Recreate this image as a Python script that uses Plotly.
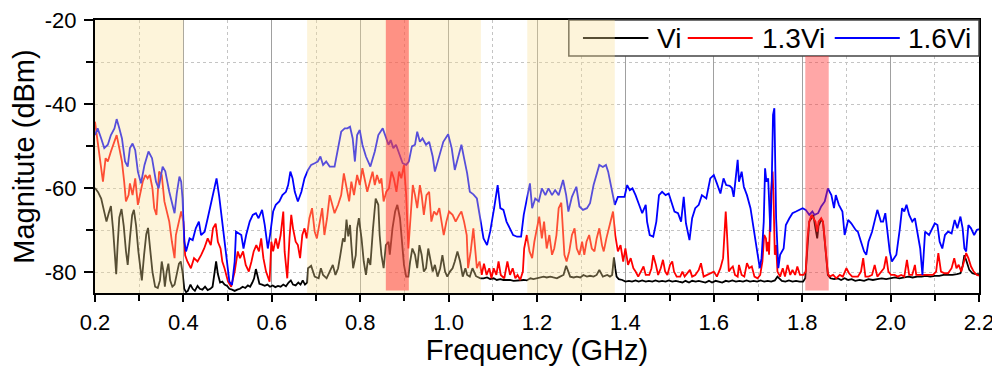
import plotly.graph_objects as go

# ---------------- data ----------------
f_vi = [0.200,0.207,0.214,0.220,0.226,0.231,0.236,0.241,0.245,0.248,0.251,0.255,0.260,0.265,0.270,0.274,0.279,0.284,0.288,0.293,0.298,0.302,0.306,0.311,0.316,0.320,0.325,0.330,0.336,0.342,0.347,0.351,0.355,0.358,0.362,0.366,0.370,0.375,0.380,0.385,0.390,0.394,0.398,0.402,0.406,
        0.410,0.416,0.421,0.426,0.432,0.437,0.443,0.449,0.455,0.461,0.466,0.470,0.474,0.478,0.483,0.488,0.493,0.499,0.504,0.510,0.516,0.522,0.528,0.534,0.540,0.546,0.551,0.556,0.560,0.564,0.568,0.572,0.578,0.584,0.590,0.596,0.602,0.608,0.614,0.620,0.626,0.632,0.638,0.643,0.648,0.654,0.660,0.665,0.670,0.675,0.680,
        0.682,0.689,0.697,0.706,0.711,0.716,0.724,0.731,0.738,0.744,0.750,0.755,0.761,0.765,0.769,0.773,0.777,0.780,0.784,0.790,0.793,0.797,0.803,0.808,0.813,0.818,0.823,0.829,0.835,0.841,0.844,0.848,0.853,0.858,0.864,0.867,0.873,0.879,0.884,0.890,0.895,0.899,0.904,0.909,0.913,0.918,0.924,0.929,0.934,0.939,0.944,0.949,0.954,0.959,0.964,0.969,0.975,0.981,0.986,0.992,0.997,1.003,1.009,1.014,1.020,1.026,1.032,1.038,1.042,1.048,1.054,1.062,
        1.072,1.079,1.087,1.094,1.102,1.109,1.117,1.124,1.132,1.139,1.147,1.154,1.162,1.170,1.177,1.185,1.192,1.200,1.207,1.215,1.222,1.230,1.237,1.245,1.252,1.260,1.266,1.270,1.275,1.283,1.290,1.298,1.305,1.313,1.320,1.328,1.335,1.341,1.349,1.359,1.365,1.370,1.374,1.377,1.380,1.385,1.393,1.400,1.408,1.415,1.423,1.430,1.438,1.446,1.453,1.461,1.468,1.476,1.483,1.491,1.498,1.506,1.514,1.521,1.529,1.536,1.544,1.551,1.559,1.566,1.574,1.581,1.589,1.596,1.604,1.612,1.619,1.627,1.634,1.642,1.650,1.658,1.666,1.674,1.682,1.690,1.698,1.706,1.714,1.722,1.730,1.738,1.744,1.748,1.754,1.762,1.770,1.778,1.786,1.794,1.802,1.807,1.812,1.816,1.821,1.825,1.830,1.834,1.837,1.843,1.847,1.850,1.855,1.858,1.864,1.872,1.880,1.888,1.896,1.904,1.912,1.920,1.930,1.940,1.950,1.960,1.970,1.980,1.990,2.000,2.010,2.020,2.030,2.040,2.050,2.060,2.070,2.080,2.090,2.100,2.110,2.120,2.130,2.140,2.150,2.158,2.163,2.167,2.172,2.178,2.185,2.192,2.200]
v_vi = [-60.0,-61.0,-62.5,-65.0,-68.0,-66.0,-64.3,-70.0,-76.0,-80.5,-74.0,-67.0,-65.0,-69.0,-75.0,-78.3,-72.0,-66.5,-65.2,-69.0,-75.0,-79.0,-82.0,-76.0,-71.0,-69.5,-74.0,-80.0,-83.5,-83.8,-82.0,-77.5,-80.0,-83.5,-80.0,-78.0,-82.0,-83.5,-83.0,-80.5,-78.0,-77.5,-80.0,-84.0,-84.8,
        -84.5,-83.0,-84.0,-84.5,-83.3,-84.0,-84.2,-83.5,-84.3,-84.0,-83.5,-81.0,-77.5,-80.5,-82.5,-82.3,-83.0,-83.3,-84.0,-84.2,-84.5,-84.2,-84.0,-83.5,-83.8,-83.2,-83.5,-82.5,-81.5,-79.3,-81.5,-82.8,-83.0,-83.3,-83.0,-83.5,-83.2,-83.6,-83.3,-83.5,-83.0,-83.4,-82.5,-82.0,-83.0,-83.2,-82.5,-83.0,-82.0,-83.0,-82.5,
        -79.1,-78.5,-81.1,-81.5,-79.1,-80.7,-81.5,-79.9,-78.3,-80.7,-79.1,-76.0,-72.0,-72.8,-67.5,-71.5,-68.8,-73.6,-79.1,-76.0,-69.6,-67.2,-72.0,-77.5,-80.7,-76.7,-78.3,-69.6,-62.5,-64.0,-71.2,-75.9,-79.1,-73.6,-72.8,-75.9,-69.6,-65.6,-64.0,-67.2,-72.8,-78.3,-81.1,-81.1,-77.5,-74.4,-75.9,-79.1,-73.6,-75.9,-79.9,-79.1,-74.4,-77.5,-79.9,-78.3,-81.1,-79.1,-76.0,-79.9,-81.1,-79.9,-79.1,-77.5,-75.1,-77.5,-81.1,-79.1,-80.7,-81.1,-79.1,-81.0,
        -81.5,-81.5,-81.3,-81.7,-81.5,-81.9,-81.7,-81.9,-81.9,-81.9,-82.1,-82.0,-82.0,-81.9,-82.0,-81.5,-81.7,-81.5,-81.3,-81.1,-81.3,-81.1,-81.3,-81.5,-81.1,-80.7,-78.5,-79.9,-81.1,-81.3,-81.1,-81.3,-80.7,-81.1,-80.9,-81.1,-80.7,-79.5,-81.1,-80.7,-81.1,-80.7,-76.5,-79.1,-81.1,-81.7,-81.9,-82.3,-82.1,-82.3,-82.0,-82.3,-82.0,-82.3,-82.1,-82.3,-82.0,-82.3,-82.1,-82.3,-82.0,-82.3,-82.1,-82.3,-82.5,-82.1,-82.5,-82.1,-82.3,-82.1,-82.3,-82.5,-82.1,-82.5,-82.1,-82.3,-82.5,-82.1,-82.3,-82.0,-82.3,-82.1,-82.3,-82.0,-82.3,-82.1,-82.3,-82.0,-82.3,-82.1,-82.3,-82.0,-81.1,-81.5,-82.1,-82.3,-82.0,-82.3,-82.1,-82.3,-82.3,-81.5,-72.8,-68.0,-67.2,-66.4,-69.6,-72.0,-69.0,-67.6,-68.0,-71.2,-77.5,-80.7,-81.5,-81.7,-81.5,-81.9,-81.5,-81.9,-81.7,-82.1,-81.9,-82.1,-81.7,-81.9,-81.7,-81.5,-81.7,-81.5,-81.3,-81.5,-81.3,-81.1,-81.3,-81.1,-81.1,-80.9,-81.1,-80.9,-80.9,-80.7,-80.7,-80.7,-80.5,-80.3,-78.5,-76.0,-77.5,-79.5,-80.3,-80.5,-80.5]

f_13 = [0.200,0.205,0.212,0.218,0.224,0.229,0.236,0.244,0.249,0.255,0.261,0.266,0.270,0.276,0.279,0.285,0.291,0.297,0.302,0.308,0.314,0.319,0.324,0.330,0.334,0.339,0.345,0.351,0.357,0.362,0.368,0.374,0.380,0.383,0.389,0.395,0.400,0.404,0.409,0.417,0.424,0.432,0.440,0.447,0.455,0.462,0.467,0.473,0.478,0.484,0.488,0.493,0.501,0.508,0.516,0.523,0.528,0.535,0.541,0.548,0.554,0.559,0.565,0.571,0.576,0.581,0.587,0.595,0.599,0.603,0.609,0.614,0.620,0.626,0.629,0.635,0.640,0.644,0.648,0.654,0.659,0.664,0.669,0.674,0.679,0.685,0.691,0.697,0.702,0.708,0.714,0.719,0.725,0.731,0.737,0.742,0.750,0.757,0.763,0.767,
        0.771,0.775,0.780,0.786,0.793,0.799,0.805,0.810,0.816,0.822,0.828,0.833,0.838,0.844,0.848,0.853,0.859,0.865,0.871,0.876,0.882,0.888,0.893,0.899,0.904,0.909,0.913,0.919,0.924,0.929,0.935,0.939,0.944,0.950,0.956,0.961,0.967,0.973,0.979,0.984,0.989,0.995,1.001,1.009,1.016,1.024,1.029,1.035,1.041,1.044,1.050,1.056,1.061,1.064,1.070,1.075,1.080,1.086,1.092,1.097,1.102,1.108,1.113,1.118,1.126,1.133,1.139,1.145,1.151,1.156,1.162,1.168,1.171,1.177,1.183,1.189,1.194,1.199,1.205,1.211,1.216,1.222,1.228,1.234,1.239,1.244,1.249,1.255,1.259,1.262,1.267,1.273,1.279,1.285,1.290,1.296,1.302,1.307,1.312,1.318,1.324,1.330,1.335,1.341,1.347,1.351,1.357,1.362,1.368,1.372,1.377,1.383,1.389,1.395,1.400,1.406,1.412,1.418,1.423,1.429,1.435,1.441,1.446,1.454,1.459,1.463,1.469,1.474,1.480,1.485,1.490,1.495,1.501,1.506,1.510,1.516,1.524,1.529,1.534,1.540,1.546,1.551,1.558,1.566,1.571,1.577,1.584,1.592,1.600,1.607,1.615,1.621,1.624,1.627,1.630,1.634,1.639,1.643,1.648,1.654,1.657,1.663,1.669,1.675,1.680,1.686,1.692,1.699,1.705,1.710,1.714,1.718,1.720,1.723,1.725,1.729,1.733,1.735,1.738,1.741,1.744,1.750,1.756,1.761,1.767,1.773,1.778,1.784,1.789,1.795,1.803,1.808,1.812,1.816,1.821,1.825,1.830,1.834,1.837,1.843,1.847,1.850,1.855,1.858,1.862,1.870,1.877,1.885,1.892,1.900,1.906,1.913,1.921,1.926,1.933,1.938,1.943,1.950,1.958,1.964,1.970,1.978,1.985,1.990,1.995,2.001,2.009,2.016,2.024,2.031,2.037,2.042,2.049,2.055,2.058,2.066,2.073,2.081,2.088,2.096,2.103,2.108,2.114,2.122,2.130,2.138,2.144,2.149,2.154,2.160,2.166,2.171,2.176,2.182,2.188,2.195,2.200]
v_13 = [-44.2,-48.2,-53.7,-58.5,-52.9,-53.7,-51.3,-49.0,-47.4,-50.5,-53.7,-58.5,-63.2,-61.7,-58.9,-61.7,-57.7,-64.0,-61.7,-58.5,-56.9,-57.7,-56.9,-60.1,-64.8,-66.4,-56.1,-56.9,-63.2,-65.6,-68.0,-72.8,-76.7,-71.2,-68.0,-65.6,-68.0,-76.0,-77.5,-79.1,-76.7,-77.5,-76.0,-74.4,-72.0,-73.6,-69.6,-68.5,-72.8,-74.4,-77.5,-79.1,-82.3,-83.5,-79.9,-75.1,-76.7,-75.1,-78.3,-79.9,-77.5,-75.1,-73.6,-75.1,-72.0,-76.7,-79.9,-82.3,-72.8,-75.1,-72.0,-74.4,-71.2,-65.6,-75.1,-81.5,-72.0,-66.4,-69.6,-72.8,-73.6,-76.7,-71.2,-69.6,-72.0,-67.2,-64.8,-70.4,-72.0,-68.0,-64.8,-71.2,-67.2,-61.7,-64.0,-66.0,-64.0,-61.7,-56.5,-58.5,
        -61.0,-63.2,-58.5,-61.7,-56.9,-59.3,-55.3,-57.7,-60.9,-58.5,-56.1,-59.3,-56.9,-58.9,-57.7,-63.2,-60.9,-60.1,-56.1,-57.7,-60.9,-56.1,-57.7,-54.5,-61.7,-74.4,-68.0,-59.3,-61.7,-64.8,-59.3,-61.7,-66.4,-61.7,-60.9,-68.0,-65.6,-66.4,-64.8,-68.0,-71.2,-68.0,-65.6,-66.4,-68.0,-66.4,-65.6,-68.0,-71.2,-79.1,-75.1,-69.6,-75.9,-79.1,-77.5,-80.7,-78.0,-80.7,-79.1,-81.5,-79.1,-80.7,-77.5,-80.7,-81.5,-77.5,-80.7,-79.1,-81.5,-80.7,-81.9,-79.9,-74.4,-71.2,-75.1,-76.7,-72.8,-69.6,-66.8,-72.0,-68.0,-74.4,-71.2,-75.9,-74.4,-71.2,-64.8,-63.5,-70.0,-75.9,-77.5,-75.1,-71.2,-69.6,-74.4,-75.9,-72.8,-75.9,-72.8,-71.2,-74.4,-75.1,-72.0,-69.6,-73.6,-75.1,-72.0,-69.6,-67.2,-65.6,-71.2,-75.1,-73.6,-77.5,-74.4,-78.3,-76.7,-79.1,-79.9,-81.1,-79.9,-78.7,-80.7,-80.7,-79.1,-76.0,-78.3,-80.7,-79.1,-77.1,-79.9,-80.7,-78.3,-77.5,-79.9,-81.1,-81.1,-79.9,-81.1,-80.3,-79.5,-81.1,-80.7,-79.5,-77.9,-81.1,-80.7,-80.3,-79.9,-81.1,-79.1,-76.7,-71.2,-65.6,-71.2,-79.9,-79.1,-78.7,-80.7,-81.1,-78.3,-80.7,-81.1,-77.9,-79.1,-78.7,-81.1,-81.5,-80.7,-77.5,-71.2,-72.0,-75.1,-72.8,-75.9,-61.7,-56.1,-61.7,-75.9,-73.6,-79.9,-81.1,-79.1,-81.1,-78.3,-80.7,-79.5,-80.7,-78.7,-80.7,-80.7,-79.9,-72.0,-68.0,-66.4,-67.2,-68.0,-70.4,-68.0,-67.2,-68.0,-71.2,-77.5,-80.3,-81.1,-80.7,-81.5,-80.7,-81.1,-79.1,-80.3,-81.1,-81.1,-81.1,-79.9,-76.7,-81.1,-81.1,-80.7,-78.3,-81.1,-79.9,-79.1,-76.3,-79.9,-80.7,-80.7,-81.1,-80.7,-81.1,-77.1,-80.7,-80.7,-78.3,-80.7,-80.7,-80.7,-80.7,-80.7,-80.7,-79.9,-75.5,-79.9,-80.3,-80.3,-79.1,-76.7,-79.1,-78.3,-79.9,-77.5,-75.5,-76.7,-78.7,-79.9,-80.7,-80.9]

f_16 = [0.200,0.206,0.214,0.221,0.229,0.236,0.244,0.249,0.255,0.261,0.268,0.274,0.279,0.285,0.291,0.297,0.304,0.312,0.321,0.329,0.338,0.344,0.353,0.359,0.368,0.380,0.385,0.391,0.395,0.398,0.402,0.406,0.414,0.421,0.428,0.435,0.440,0.448,0.455,0.466,0.475,0.481,0.488,0.493,0.498,0.504,0.510,0.516,0.519,0.525,0.531,0.536,0.542,0.550,0.557,0.564,0.570,0.578,0.584,0.591,0.596,0.603,0.609,0.617,0.624,0.632,0.637,0.642,0.647,0.652,0.659,0.667,0.674,0.682,0.689,0.697,0.704,0.710,0.716,0.723,0.731,0.742,0.750,0.757,0.765,0.771,0.777,0.783,0.788,0.793,0.799,0.805,0.813,0.823,0.833,0.841,0.851,0.858,0.864,0.869,0.875,0.881,0.889,0.896,0.904,0.910,0.917,0.924,0.929,0.935,0.941,0.949,0.956,0.964,0.969,0.977,0.988,0.999,1.007,1.014,1.022,1.029,1.035,1.042,1.048,1.056,
        1.064,1.072,1.079,1.087,1.094,1.103,1.111,1.117,1.124,1.131,1.138,1.146,1.155,1.164,1.170,1.178,1.184,1.189,1.196,1.204,1.211,1.219,1.226,1.234,1.241,1.249,1.259,1.266,1.271,1.279,1.289,1.296,1.304,1.313,1.320,1.328,1.335,1.341,1.349,1.356,1.361,1.368,1.376,1.383,1.391,1.398,1.404,1.410,1.416,1.423,1.431,1.438,1.446,1.449,1.455,1.463,1.470,1.476,1.483,1.491,1.498,1.504,1.511,1.519,1.526,1.532,1.537,1.545,1.551,1.558,1.566,1.573,1.583,1.592,1.600,1.607,1.615,1.622,1.628,1.636,1.641,1.645,1.650,1.654,1.657,1.663,1.668,1.675,1.683,1.690,1.698,1.704,1.708,1.713,1.716,1.719,1.723,1.728,1.731,1.734,1.737,1.739,1.741,1.746,1.750,1.758,1.763,1.771,1.778,1.786,1.793,1.801,1.808,1.816,1.823,1.828,1.836,1.843,1.851,1.858,1.866,1.872,1.876,1.883,1.891,1.896,1.904,1.911,1.921,1.926,1.933,1.940,1.945,1.950,1.958,1.964,1.970,1.978,1.983,1.988,1.993,1.998,2.003,2.013,2.021,2.026,2.031,2.036,2.042,2.049,2.055,2.061,2.067,2.072,2.078,2.087,2.094,2.100,2.106,2.111,2.117,2.123,2.130,2.138,2.145,2.151,2.158,2.163,2.167,2.171,2.176,2.182,2.189,2.195,2.200]
v_16 = [-47.4,-45.8,-48.2,-50.5,-49.7,-47.4,-45.8,-43.6,-45.8,-48.2,-53.7,-54.9,-50.5,-49.4,-51.0,-56.1,-58.9,-54.5,-51.3,-52.9,-58.5,-60.1,-54.9,-56.0,-60.9,-66.0,-61.3,-57.3,-58.5,-62.5,-72.8,-75.1,-72.0,-72.4,-69.6,-68.0,-71.2,-70.4,-67.2,-61.7,-57.7,-62.0,-68.0,-72.8,-77.5,-82.3,-83.1,-77.5,-70.4,-70.8,-71.2,-74.4,-71.2,-68.0,-66.4,-66.0,-67.2,-65.2,-68.8,-74.4,-71.2,-65.6,-64.0,-63.2,-61.7,-60.9,-59.3,-56.1,-57.7,-60.9,-63.2,-60.9,-57.7,-55.7,-54.5,-54.1,-53.7,-52.5,-54.5,-53.7,-54.9,-54.9,-50.5,-46.6,-45.8,-45.8,-45.4,-48.2,-53.7,-47.4,-46.2,-49.7,-52.5,-54.9,-51.3,-47.4,-45.8,-47.8,-49.7,-48.6,-50.5,-49.7,-52.1,-54.1,-54.5,-53.7,-50.1,-49.7,-46.6,-49.0,-48.2,-49.7,-49.0,-52.5,-56.1,-52.9,-49.0,-47.2,-50.5,-55.7,-52.1,-49.7,-52.9,-56.5,-60.9,-61.5,
        -62.5,-68.0,-72.0,-73.6,-70.4,-64.8,-59.3,-64.8,-65.2,-68.0,-69.6,-71.2,-71.6,-71.6,-66.4,-62.5,-58.9,-64.8,-62.5,-63.2,-60.1,-61.7,-60.1,-61.7,-60.5,-61.7,-58.1,-61.7,-65.6,-62.1,-59.7,-64.4,-65.2,-64.8,-63.6,-59.3,-56.9,-54.5,-55.0,-54.5,-56.1,-60.1,-64.0,-62.1,-62.1,-62.1,-59.3,-60.5,-60.1,-61.7,-64.0,-66.0,-64.0,-68.0,-71.2,-71.6,-68.0,-61.7,-60.9,-61.7,-61.3,-63.2,-65.6,-66.0,-68.0,-62.1,-68.4,-72.4,-67.2,-64.8,-64.0,-61.7,-62.5,-57.7,-56.9,-58.9,-61.3,-57.7,-59.3,-59.5,-60.0,-62.1,-56.1,-53.3,-58.5,-56.1,-59.7,-61.7,-64.8,-69.6,-74.4,-79.1,-76.7,-68.0,-55.3,-58.5,-57.7,-70.4,-59.3,-42.6,-41.0,-53.7,-67.2,-79.1,-75.9,-74.4,-68.8,-67.2,-66.0,-65.6,-65.2,-64.8,-65.2,-66.4,-65.6,-66.4,-66.0,-64.4,-63.2,-60.1,-61.7,-64.8,-61.7,-64.0,-65.6,-71.2,-67.6,-68.4,-70.0,-70.4,-72.8,-75.1,-75.9,-72.8,-70.4,-68.0,-65.2,-68.0,-68.0,-66.0,-70.4,-75.1,-77.5,-75.9,-69.6,-64.8,-65.6,-64.0,-66.4,-68.0,-67.2,-71.2,-74.4,-80.7,-70.4,-71.2,-69.6,-68.4,-68.8,-72.8,-74.4,-71.2,-70.4,-70.8,-67.6,-69.6,-66.8,-69.6,-74.4,-75.1,-68.8,-69.6,-71.2,-70.0,-69.8]

series_names = ["Vi", "1.3Vi", "1.6Vi"]
series_colors = ["#000000", "#FF0000", "#0000FF"]

beige_bands = [(0.200, 0.400), (0.680, 1.073), (1.178, 1.376)]
red_bands = [(0.858, 0.910, -84.4, -20.0), (1.807, 1.860, -84.4, -28.6)]

x_ticks = [0.2, 0.4, 0.6, 0.8, 1.0, 1.2, 1.4, 1.6, 1.8, 2.0, 2.2]
y_ticks = [-80, -60, -40, -20]

# ---------------- figure ----------------
FONT = "Liberation Sans, Arial, sans-serif"
fig = go.Figure()
for fx, vy, name, col in zip([f_vi, f_13, f_16], [v_vi, v_13, v_16], series_names, series_colors):
    fig.add_trace(go.Scatter(x=fx, y=vy, mode="lines", name=name,
                             line=dict(color=col, width=1.8), showlegend=False))

shapes = []
# custom legend box (white, hides grid) - paper coords
leg_x0, leg_y0 = 0.536, 0.868
shapes.append(dict(type="rect", xref="paper", yref="paper", x0=leg_x0, x1=1.0, y0=leg_y0, y1=1.0,
                   fillcolor="white", line=dict(color="#444444", width=1.5), layer="above"))
leg_lines = [(0.552, 0.626), (0.6705, 0.744), (0.8368, 0.9104)]
leg_text_x = [0.633, 0.752, 0.917]
leg_y = 0.934
for (a, b), col in zip(leg_lines, series_colors):
    shapes.append(dict(type="line", xref="paper", yref="paper", x0=a, x1=b, y0=leg_y, y1=leg_y,
                       line=dict(color=col, width=2), layer="above"))
for a, b in beige_bands:
    shapes.append(dict(type="rect", xref="x", yref="y", x0=a, x1=b, y0=-85, y1=-20,
                       fillcolor="rgb(250,224,150)", opacity=0.35, line=dict(width=0), layer="above"))
red_opac = [0.5, 0.42]
for (a, b, lo, hi), op in zip(red_bands, red_opac):
    shapes.append(dict(type="rect", xref="x", yref="y", x0=a, x1=b, y0=lo, y1=hi,
                       fillcolor="rgb(255,45,45)", opacity=op, line=dict(width=0), layer="above"))

annotations = []
for tx, name in zip(leg_text_x, series_names):
    annotations.append(dict(x=tx, y=leg_y, xref="paper", yref="paper", text=name, showarrow=False,
                            xanchor="left", yanchor="middle", font=dict(family=FONT, size=28, color="black")))

# page body has an 8px default margin: figure sized/offset to compensate
fig.update_layout(
    width=992, height=358,
    margin=dict(l=87, r=21, t=12, b=73),
    paper_bgcolor="white", plot_bgcolor="white",
    shapes=shapes, annotations=annotations,
    font=dict(family=FONT, color="black"),
    showlegend=False,
)
fig.update_xaxes(
    range=[0.2, 2.2], tickvals=x_ticks, ticktext=[f"{t:.1f}" for t in x_ticks],
    ticks="outside", ticklen=7, tickwidth=1.5, tickcolor="black",
    showline=True, linewidth=2, linecolor="black", mirror=True,
    showgrid=True, gridcolor="#a0a0a0", gridwidth=1, zeroline=False,
    tickfont=dict(family=FONT, size=22, color="black"), ticklabelstandoff=2,
    ticklabeloverflow="allow",
    title=dict(text="Frequency (GHz)", font=dict(family=FONT, size=29, color="black"), standoff=9),
    automargin=False,
    minor=dict(dtick=0.1, tick0=0.2, ticks="outside", ticklen=6, tickwidth=1.5, tickcolor="black",
               showgrid=True, gridcolor="#c4c4c4", griddash="dot", gridwidth=1),
)
fig.update_yaxes(
    range=[-85, -20], tickvals=y_ticks, ticktext=[str(t) for t in y_ticks],
    ticks="outside", ticklen=9, tickwidth=1.5, tickcolor="black",
    showline=True, linewidth=2, linecolor="black", mirror=True,
    showgrid=False, zeroline=False,
    tickfont=dict(family=FONT, size=22, color="black"), ticklabelstandoff=3,
    ticklabeloverflow="allow",
    title=dict(text="Magnitute (dBm)", font=dict(family=FONT, size=29, color="black"), standoff=9),
    automargin=False,
    minor=dict(dtick=10, tick0=-80, ticks="outside", ticklen=7, tickwidth=1.5, tickcolor="black",
               showgrid=True, gridcolor="#c4c4c4", griddash="dot", gridwidth=1),
)

fig.write_html("out.html")
